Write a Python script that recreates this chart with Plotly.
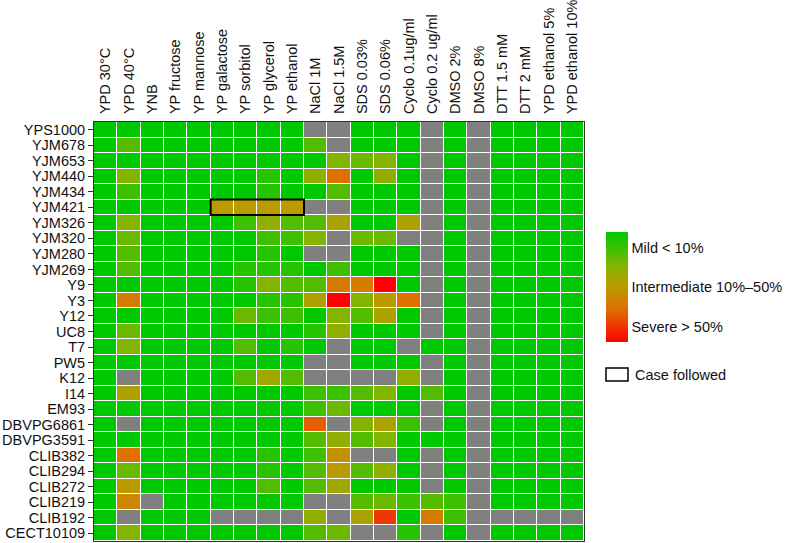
import plotly.graph_objects as go

strains = ["YPS1000", "YJM678", "YJM653", "YJM440", "YJM434", "YJM421", "YJM326",
           "YJM320", "YJM280", "YJM269", "Y9", "Y3", "Y12", "UC8", "T7", "PW5", "K12",
           "I14", "EM93", "DBVPG6861", "DBVPG3591", "CLIB382", "CLIB294", "CLIB272",
           "CLIB219", "CLIB192", "CECT10109"]

conditions = ["YPD 30°C", "YPD 40°C", "YNB", "YP fructose", "YP mannose", "YP galactose",
              "YP sorbitol", "YP glycerol", "YP ethanol", "NaCl 1M", "NaCl 1.5M",
              "SDS 0.03%", "SDS 0.06%", "Cyclo 0.1ug/ml", "Cyclo 0.2 ug/ml", "DMSO 2%",
              "DMSO 8%", "DTT 1.5 mM", "DTT 2 mM", "YPD ethanol 5%", "YPD ethanol 10%"]

N = None  # not measured (grey)
# growth defect severity: 0 = mild (green) ... 1 = severe (red)
severity = [
    [0, 0, 0, 0, 0, 0, 0, 0, 0, N, N, 0, 0, 0, N, 0, N, 0, 0, 0, 0],
    [0, .2, 0, 0, 0, 0, 0, 0, 0, .2, N, 0, 0, 0, N, 0, N, 0, 0, 0, 0],
    [0, 0, 0, 0, 0, 0, 0, 0, 0, 0, .3, .25, .3, 0, N, 0, N, 0, 0, 0, 0],
    [0, .3, 0, 0, 0, 0, 0, .1, 0, .35, .7, 0, .35, 0, N, 0, N, 0, 0, 0, 0],
    [0, .15, 0, 0, 0, 0, 0, .1, 0, 0, .2, 0, 0, 0, N, 0, N, 0, 0, 0, 0],
    [0, 0, 0, 0, 0, .5, .5, .5, .5, N, N, 0, 0, 0, N, 0, N, 0, 0, 0, 0],
    [0, .3, 0, 0, 0, 0, .15, .35, .2, .2, .45, 0, 0, .45, N, 0, N, 0, 0, 0, 0],
    [0, .25, 0, 0, 0, 0, 0, .15, .15, .3, N, .25, .25, N, N, 0, N, 0, 0, 0, 0],
    [0, .2, 0, 0, 0, 0, 0, .1, 0, N, N, 0, 0, 0, N, 0, N, 0, 0, 0, 0],
    [0, .2, 0, 0, 0, 0, .1, .1, .1, 0, .15, 0, 0, 0, N, 0, N, 0, 0, 0, 0],
    [0, 0, 0, 0, 0, 0, .1, .3, .2, .2, .65, .65, 1.0, 0, N, 0, N, 0, 0, 0, 0],
    [0, .65, 0, 0, 0, 0, 0, .1, .1, .45, 1.0, .3, .5, .7, N, 0, N, 0, 0, 0, 0],
    [0, 0, 0, 0, 0, 0, .25, .15, .15, 0, .3, .2, .45, 0, N, 0, N, 0, 0, 0, 0],
    [0, .25, 0, 0, 0, 0, 0, 0, 0, .1, .35, 0, 0, 0, N, 0, N, 0, 0, 0, 0],
    [0, .3, 0, 0, 0, 0, .2, 0, .1, 0, N, 0, 0, N, 0, 0, N, 0, 0, 0, 0],
    [0, 0, 0, 0, 0, 0, 0, 0, 0, N, N, 0, 0, 0, N, 0, N, 0, 0, 0, 0],
    [0, N, 0, 0, 0, 0, .2, .4, .2, N, N, N, N, .35, N, 0, N, 0, 0, 0, 0],
    [0, .45, 0, 0, 0, 0, 0, 0, 0, .15, .15, .2, .3, 0, .2, 0, N, 0, 0, 0, 0],
    [0, 0, 0, 0, 0, 0, 0, 0, 0, .15, .25, 0, 0, 0, N, 0, N, 0, 0, 0, 0],
    [0, N, 0, 0, 0, 0, 0, 0, 0, .75, N, .3, .45, .15, N, 0, N, 0, 0, 0, 0],
    [0, 0, 0, 0, 0, 0, 0, 0, 0, .2, .35, .2, .3, 0, 0, 0, N, 0, 0, 0, 0],
    [0, .7, 0, 0, 0, 0, 0, .1, 0, .15, .55, N, N, 0, N, 0, N, 0, 0, 0, 0],
    [0, .25, 0, 0, 0, 0, 0, .1, 0, .2, .5, .2, .35, 0, N, 0, N, 0, 0, 0, 0],
    [0, .5, 0, 0, 0, 0, 0, .2, 0, .2, .4, 0, 0, 0, N, 0, N, 0, 0, 0, 0],
    [0, .6, N, 0, 0, 0, 0, 0, 0, N, N, .2, .25, .15, .2, .15, N, 0, 0, 0, 0],
    [0, N, 0, 0, 0, N, N, N, N, .35, N, .45, .85, 0, .65, .15, N, N, N, N, N],
    [0, .3, 0, 0, 0, 0, 0, 0, 0, .2, .25, N, N, .1, N, 0, N, 0, 0, 0, 0],
]

legend_labels = ["Mild < 10%", "Intermediate 10%–50%", "Severe > 50%"]
legend_severity = [0.145, 0.5, 0.86]

followed_strain = "YJM421"
followed_conditions = ["YP galactose", "YP sorbitol", "YP glycerol", "YP ethanol"]

# plot value: 1 = no defect (green, top of colour bar), 0 = severe (red)
z = [[None if v is None else 1 - v for v in row] for row in severity]
grey = [[1 for _ in row] for row in severity]

FONT = "Liberation Sans, Arial, Helvetica, sans-serif"
FS = 14.5
W, H = 788, 543
PL, PR, PT, PB = 94, 584, 122, 541  # plot area in pixels
PW, PH = PR - PL, PB - PT


def px(x):
    return (x - PL) / PW


def py(y):
    return (PB - y) / PH


fig = go.Figure()
fig.add_trace(go.Heatmap(
    z=grey, x=conditions, y=strains, xgap=1, ygap=1,
    colorscale=[[0, "rgb(128,128,128)"], [1, "rgb(128,128,128)"]],
    showscale=False, hoverinfo="skip"))
fig.add_trace(go.Heatmap(
    z=z, x=conditions, y=strains, xgap=1, ygap=1, zmin=0, zmax=1,
    colorscale=[[0, "rgb(255,0,0)"], [0.3, "rgb(222,112,0)"], [0.5, "rgb(185,155,0)"],
                [0.7, "rgb(130,180,0)"], [0.85, "rgb(60,192,0)"], [1, "rgb(0,200,0)"]],
    hoverongaps=False,
    colorbar=dict(
        x=px(606), xanchor="left", xpad=0,
        y=py(287), yanchor="middle", ypad=0,
        len=110, lenmode="pixels", thickness=22, outlinewidth=0,
        tickvals=[1 - s for s in legend_severity], ticktext=legend_labels,
        ticks="", ticklen=0, tickfont=dict(family=FONT, size=FS, color="#111"),
    )))

# highlight the followed case
i_s = strains.index(followed_strain)
cols = [conditions.index(c) for c in followed_conditions]
fig.add_shape(type="rect", xref="x", yref="y",
              x0=min(cols) - 0.5, x1=max(cols) + 0.5, y0=i_s - 0.5, y1=i_s + 0.5,
              line=dict(color="black", width=2), fillcolor="rgba(0,0,0,0)")

# "Case followed" legend entry
fig.add_shape(type="rect", xref="paper", yref="paper",
              x0=px(606), x1=px(628), y0=py(381), y1=py(368),
              line=dict(color="black", width=1.5))
fig.add_annotation(xref="paper", yref="paper", x=px(633), y=py(375),
                   xanchor="left", yanchor="middle", showarrow=False, text="Case followed",
                   font=dict(family=FONT, size=FS, color="#111"))

fig.update_layout(
    width=W, height=H,
    margin=dict(l=PL, r=W - PR, t=PT, b=H - PB),
    paper_bgcolor="white", plot_bgcolor="white",
    font=dict(family=FONT, size=FS, color="#111"),
    xaxis=dict(side="top", tickangle=-90, ticks="", ticklabelstandoff=4,
               automargin=False, tickmode="array", tickvals=conditions,
               showline=True, mirror=True, linecolor="#333", linewidth=1,
               showgrid=False, zeroline=False, tickfont=dict(size=FS)),
    yaxis=dict(autorange="reversed", ticks="outside", ticklen=5, tickcolor="#333",
               automargin=False, tickmode="array", tickvals=strains,
               showline=True, mirror=True, linecolor="#333", linewidth=1,
               showgrid=False, zeroline=False, tickfont=dict(size=FS)),
)

fig.write_html("out.html", config={"displayModeBar": False},
               post_script="document.body.style.margin='0';document.body.style.overflow='hidden';")
